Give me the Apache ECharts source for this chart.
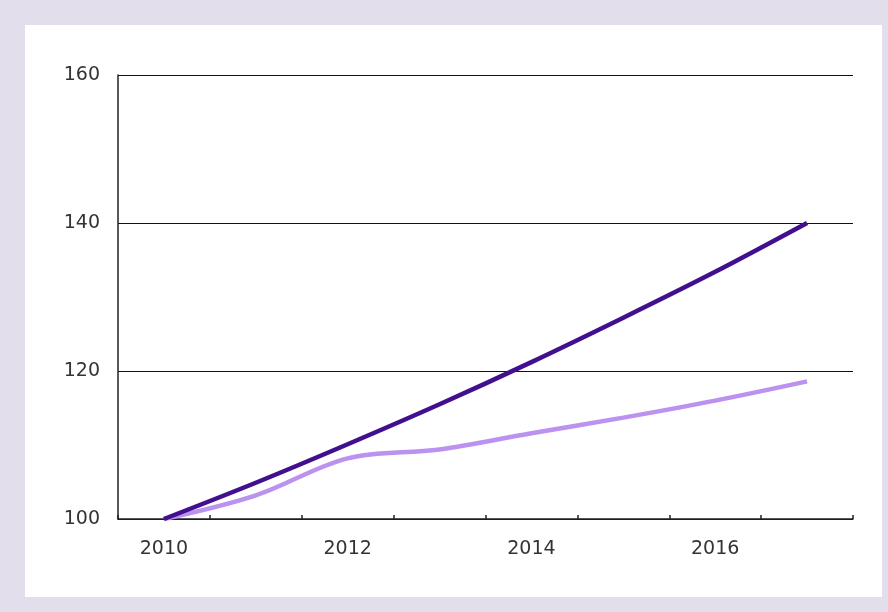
<!DOCTYPE html>
<html>
<head>
<meta charset="utf-8">
<script src="https://cdn.jsdelivr.net/npm/echarts@6/dist/echarts.min.js"></script>
<style>
html,body{margin:0;padding:0;background:#e2deec;}
#c{width:888px;height:612px;}
</style>
</head>
<body>
<div id="c"></div>
<script>
var categories = ['2010','2011','2012','2013','2014','2015','2016','2017'];
var darkSeries = [100, 104.9, 110.1, 115.5, 121.2, 127.2, 133.4, 140.0];
var lightSeries = [100, 103.2, 108.2, 109.4, 111.6, 113.7, 116.0, 118.6];
var yTicks = [100, 120, 140, 160];

var chart = echarts.init(document.getElementById('c'), null, {renderer: 'canvas'});
chart.setOption({
  animation: false,
  backgroundColor: '#e2deec',
  graphic: [{
    type: 'rect',
    z: -10,
    silent: true,
    shape: {x: 25, y: 25, width: 857, height: 572},
    style: {fill: '#ffffff'}
  }],
  grid: {left: 118, right: 35, top: 75, bottom: 93, containLabel: false},
  xAxis: {
    type: 'category',
    data: categories,
    boundaryGap: true,
    axisLine: {show: true, lineStyle: {color: '#222', width: 1.5}},
    axisTick: {show: true, inside: true, length: 4, interval: 0, lineStyle: {color: '#222', width: 1.5}},
    axisLabel: {interval: 1, margin: 21, color: '#333', fontFamily: 'DejaVu Sans', fontSize: 19},
    splitLine: {show: false}
  },
  yAxis: {
    type: 'value',
    min: yTicks[0],
    max: yTicks[yTicks.length - 1],
    interval: 20,
    axisLine: {show: true, lineStyle: {color: '#222', width: 1.5}},
    axisTick: {show: false},
    axisLabel: {margin: 18, color: '#333', fontFamily: 'DejaVu Sans', fontSize: 19},
    splitLine: {show: true, lineStyle: {color: '#111', width: 1.2}}
  },
  series: [
    {
      type: 'line',
      data: lightSeries,
      smooth: 0.35,
      symbol: 'none',
      lineStyle: {color: '#bb92f0', width: 4.5}
    },
    {
      type: 'line',
      data: darkSeries,
      smooth: 0.3,
      symbol: 'none',
      lineStyle: {color: '#42108f', width: 4.5}
    }
  ]
});
</script>
</body>
</html>
